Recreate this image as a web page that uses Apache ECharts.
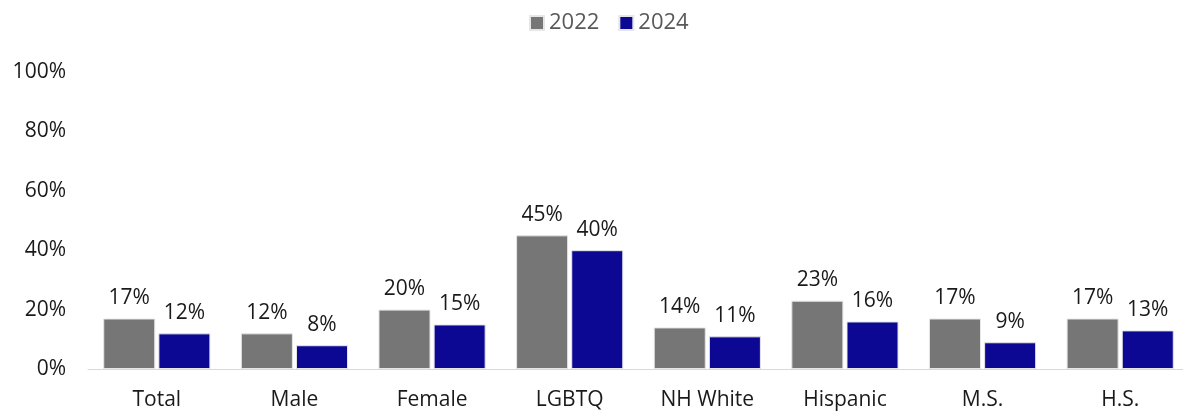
<!DOCTYPE html>
<html>
<head>
<meta charset="utf-8">
<script src="https://cdn.jsdelivr.net/npm/echarts@6/dist/echarts.min.js"></script>
<style>
  html, body { margin: 0; padding: 0; background: #fff; }
  #chart { width: 1183px; height: 411px; }
</style>
</head>
<body>
<div id="chart"></div>
<script>
var categories = ['Total', 'Male', 'Female', 'LGBTQ', 'NH White', 'Hispanic', 'M.S.', 'H.S.']
var values2022 = [17, 12, 20, 45, 14, 23, 17, 17]
var values2024 = [12, 8, 15, 40, 11, 16, 9, 13]
var yTicks = [0, 20, 40, 60, 80, 100]

var chart = echarts.init(document.getElementById('chart'))

var labelStyle = {
  show: true,
  position: 'top',
  distance: 10,
  formatter: '{c}%',
  color: '#1a1a1a',
  fontSize: 21,
  fontFamily: 'Open Sans'
}

chart.setOption({
  animation: false,
  legend: {
    top: 7,
    left: 524,
    icon: 'rect',
    itemWidth: 14,
    itemHeight: 14,
    itemGap: 19,
    textStyle: { color: '#595959', fontSize: 22, fontFamily: 'Open Sans' },
    data: ['2022', '2024']
  },
  grid: {
    left: 88,
    top: 72,
    width: 1101,
    bottom: 42,
    outerBoundsMode: 'none', // v6 otherwise squeezes the grid to fit labels
    containLabel: false
  },
  xAxis: {
    type: 'category',
    data: categories,
    axisTick: { show: false },
    axisLine: { lineStyle: { color: '#d9d9d9', width: 1 } },
    axisLabel: { color: '#1a1a1a', fontSize: 21, fontFamily: 'Open Sans', margin: 21 }
  },
  yAxis: {
    type: 'value',
    min: yTicks[0],
    max: yTicks[yTicks.length - 1],
    interval: 20,
    splitLine: { show: false },
    axisLine: { show: false },
    axisTick: { show: false },
    axisLabel: { formatter: '{value}%', color: '#1a1a1a', fontSize: 21, fontFamily: 'Open Sans', margin: 22 }
  },
  series: [{
    name: '2022',
    type: 'bar',
    data: values2022,
    barWidth: '37.8%',
    barGap: '6%',
    itemStyle: { color: '#767676', borderColor: '#e6e6e6', borderWidth: 1 },
    label: labelStyle
  }, {
    name: '2024',
    type: 'bar',
    data: values2024,
    barWidth: '37.8%',
    itemStyle: { color: '#0c0894', borderColor: '#e6e6e6', borderWidth: 1 },
    label: labelStyle
  }]
})
</script>
</body>
</html>
